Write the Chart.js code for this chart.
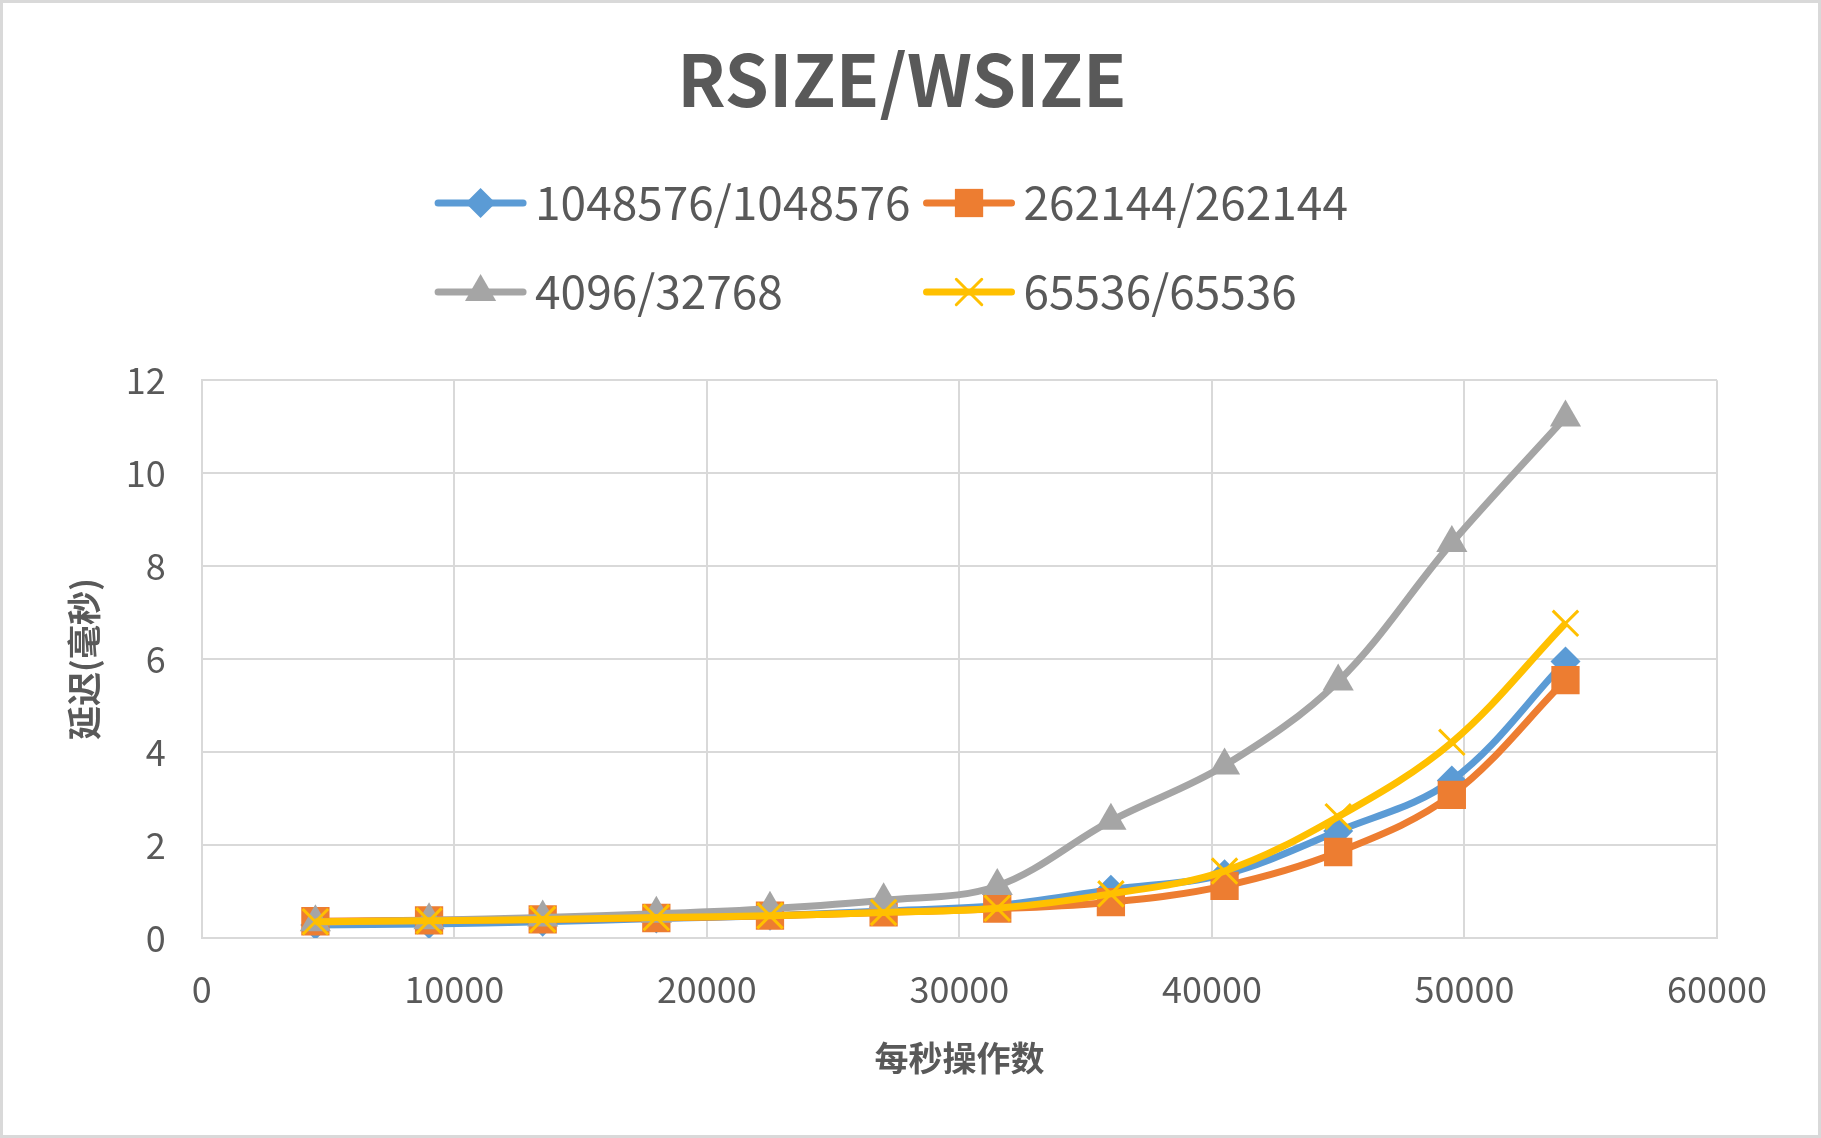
<!DOCTYPE html>
<html>
<head>
<meta charset="utf-8">
<script src="https://cdn.jsdelivr.net/npm/chart.js@4.4.1/dist/chart.umd.min.js"></script>
<style>
  html, body { margin: 0; padding: 0; background: #fff; }
</style>
</head>
<body>
<canvas id="myChart" width="1821" height="1138"></canvas>
<script>
// operations per second (x) and latency in ms (y) per rsize/wsize setting
const opsPerSec = [4500, 9000, 13500, 18000, 22500, 27000, 31500, 36000, 40500, 45000, 49500, 54000];
const lat1048576 = [0.28, 0.30, 0.35, 0.42, 0.48, 0.58, 0.70, 1.04, 1.37, 2.30, 3.39, 5.95];
const lat262144 = [0.36, 0.38, 0.40, 0.43, 0.48, 0.55, 0.63, 0.77, 1.12, 1.85, 3.08, 5.55];
const lat4096 = [0.34, 0.38, 0.44, 0.52, 0.63, 0.81, 1.12, 2.52, 3.71, 5.52, 8.50, 11.2];
const lat65536 = [0.35, 0.37, 0.40, 0.44, 0.48, 0.55, 0.64, 0.95, 1.44, 2.61, 4.21, 6.77];

const seriesNames = ["1048576/1048576", "262144/262144", "4096/32768", "65536/65536"];
const seriesValues = [lat1048576, lat262144, lat4096, lat65536];
const seriesColors = ["#5B9BD5", "#ED7D31", "#A5A5A5", "#FFC000"];
const seriesMarkers = ["rectRot", "rect", "triangle", "crossRot"];
const markerRadius = [15, 20, 18, 18];
const drawOrder = [3, 2, 1, 0];

const xTicks = { min: 0, max: 60000, step: 10000 };
const yTicks = { min: 0, max: 12, step: 2 };

const textColor = "#595959";
const gridColor = "#D9D9D9";
const fontFamily = '"Noto Sans CJK SC", "Open Sans", sans-serif';

function drawMarker(ctx, style, x, y, r, color) {
    ctx.save();
    ctx.fillStyle = color;
    ctx.strokeStyle = color;
    ctx.beginPath();
    if (style === "rectRot") {
        ctx.moveTo(x, y - r);
        ctx.lineTo(x + r, y);
        ctx.lineTo(x, y + r);
        ctx.lineTo(x - r, y);
        ctx.closePath();
        ctx.fill();
    } else if (style === "rect") {
        const s = r * Math.SQRT1_2;
        ctx.rect(x - s, y - s, 2 * s, 2 * s);
        ctx.fill();
    } else if (style === "triangle") {
        ctx.moveTo(x, y - r);
        ctx.lineTo(x + 0.866 * r, y + 0.5 * r);
        ctx.lineTo(x - 0.866 * r, y + 0.5 * r);
        ctx.closePath();
        ctx.fill();
    } else {
        const d = r * Math.SQRT1_2;
        ctx.lineWidth = 3;
        ctx.moveTo(x - d, y - d);
        ctx.lineTo(x + d, y + d);
        ctx.moveTo(x + d, y - d);
        ctx.lineTo(x - d, y + d);
        ctx.stroke();
    }
    ctx.restore();
}

// white page with the light grey frame
const framePlugin = {
    id: "frame",
    beforeDraw(chart) {
        const ctx = chart.ctx;
        ctx.save();
        ctx.fillStyle = "#fff";
        ctx.fillRect(0, 0, chart.width, chart.height);
        ctx.strokeStyle = gridColor;
        ctx.lineWidth = 3;
        ctx.strokeRect(1.5, 1.5, chart.width - 3, chart.height - 3);
        ctx.restore();
    }
};

// excel style legend: 2 columns, line + marker
const legendRows = [[0, 1], [2, 3]];
const legendY = [203, 292];
const legendPlugin = {
    id: "gridLegend",
    afterDraw(chart) {
        const ctx = chart.ctx;
        const ds = chart.data.datasets;
        ctx.save();
        ctx.font = "46px " + fontFamily;
        ctx.textBaseline = "middle";
        const colW = [0, 1].map(c => Math.max(...legendRows.map(r => ctx.measureText(ds[r[c]].label).width)));
        const lineLen = 93, gap = 8, colGap = 12;
        const total = 2 * (lineLen + gap) + colW[0] + colGap + colW[1];
        const x0 = 891 - total / 2;
        legendRows.forEach((row, ri) => {
            const y = legendY[ri];
            let x = x0;
            row.forEach((idx, c) => {
                const d = ds[idx];
                ctx.strokeStyle = d.borderColor;
                ctx.lineWidth = 7;
                ctx.lineCap = "round";
                ctx.beginPath();
                ctx.moveTo(x + 4, y);
                ctx.lineTo(x + lineLen - 4, y);
                ctx.stroke();
                drawMarker(ctx, d.pointStyle, x + lineLen / 2, y, d.pointRadius, d.borderColor);
                ctx.fillStyle = textColor;
                ctx.fillText(d.label, x + lineLen + gap, y);
                x += lineLen + gap + colW[c] + colGap;
            });
        });
        ctx.restore();
    }
};

const datasets = seriesNames.map((name, i) => ({
    label: name,
    data: opsPerSec.map((x, j) => ({ x: x, y: seriesValues[i][j] })),
    borderColor: seriesColors[i],
    backgroundColor: seriesColors[i],
    pointBackgroundColor: seriesColors[i],
    pointBorderColor: seriesColors[i],
    pointBorderWidth: seriesMarkers[i] === "crossRot" ? 3 : 0,
    pointStyle: seriesMarkers[i],
    pointRadius: markerRadius[i],
    pointHoverRadius: markerRadius[i],
    borderWidth: 7,
    tension: 0.35,
    fill: false,
    order: drawOrder[i],
}));

const ctx = document.getElementById("myChart").getContext("2d");

const config = {
    type: "line",
    data: { datasets },
    options: {
        responsive: false,
        animation: false,
        devicePixelRatio: 1,
        layout: { padding: { left: 87, right: 104, top: 0, bottom: 60 } },
        plugins: {
            legend: { display: false },
            tooltip: { enabled: false },
            title: {
                display: true,
                text: "RSIZE/WSIZE",
                color: textColor,
                font: { family: fontFamily, size: 71, weight: "bold" },
                padding: { top: 37, bottom: 258 },
            },
        },
        scales: {
            x: {
                type: "linear",
                min: xTicks.min,
                max: xTicks.max,
                ticks: {
                    stepSize: xTicks.step,
                    color: textColor,
                    padding: 30,
                    font: { family: fontFamily, size: 36 },
                    callback: v => String(v),
                },
                grid: { color: gridColor, lineWidth: 2, drawTicks: false },
                border: { color: gridColor, width: 2 },
                title: {
                    display: true,
                    text: "每秒操作数",
                    color: textColor,
                    font: { family: fontFamily, size: 34, weight: "bold" },
                    padding: { top: -4, bottom: 0 },
                },
            },
            y: {
                min: yTicks.min,
                max: yTicks.max,
                ticks: {
                    stepSize: yTicks.step,
                    color: textColor,
                    padding: 36,
                    font: { family: fontFamily, size: 36 },
                },
                grid: { color: gridColor, lineWidth: 2, drawTicks: false },
                border: { color: gridColor, width: 2 },
                title: {
                    display: true,
                    text: "延迟(毫秒)",
                    color: textColor,
                    font: { family: fontFamily, size: 34, weight: "bold" },
                    padding: { top: -23, bottom: -15 },
                },
            },
        },
    },
    plugins: [framePlugin, legendPlugin],
};

const myChart = new Chart(ctx, config);
</script>
</body>
</html>
